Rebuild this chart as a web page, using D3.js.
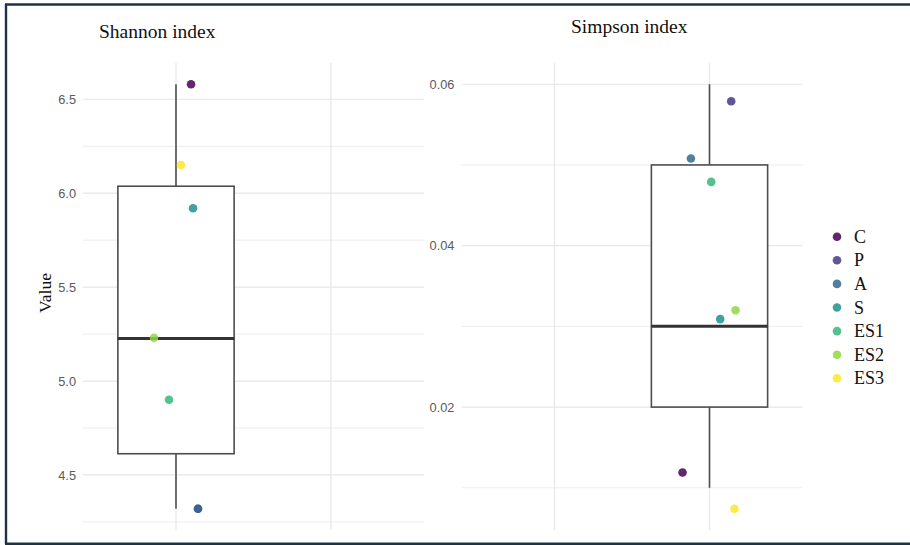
<!DOCTYPE html>
<html>
<head>
<meta charset="utf-8">
<script src="https://cdn.jsdelivr.net/npm/d3@7"></script>
<style>
  html, body { margin: 0; padding: 0; background: #fff; }
  svg { display: block; }
</style>
</head>
<body>
<svg id="chart" width="910" height="545"></svg>
<script>
// Sample groups and their viridis colours
const categories = ["C", "P", "A", "S", "ES1", "ES2", "ES3"];
const colors = ["#440154", "#443A83", "#31688E", "#21908C", "#35B779", "#8FD744", "#FDE725"];

// Discrete x levels shared by both facets
const indexLevels = ["Shannon", "Simpson"];

// Shannon index per sample, with horizontal jitter (in x-level units)
const shannonValues = [6.58, 4.32, 4.32, 5.92, 4.90, 5.23, 6.15];
const shannonJitter = [0.097, 0.142, 0.142, 0.110, -0.045, -0.142, 0.032];
// Box summary: lower whisker, Q1, median, Q3, upper whisker
const shannonBox = [4.32, 4.613, 5.227, 6.037, 6.58];
const shannonTicks = [4.5, 5.0, 5.5, 6.0, 6.5];

// Simpson index per sample, with horizontal jitter
const simpsonValues = [0.0119, 0.0579, 0.0508, 0.0309, 0.0479, 0.0320, 0.0074];
const simpsonJitter = [-0.174, 0.140, -0.120, 0.069, 0.011, 0.168, 0.161];
const simpsonBox = [0.01, 0.02, 0.03, 0.05, 0.06];
const simpsonTicks = [0.02, 0.04, 0.06];

const svg = d3.select("#chart");
const serif = "'Liberation Serif', 'Times New Roman', serif";
const sans = "'Liberation Sans', Arial, Helvetica, sans-serif";

// Frame around the figure (top, left, bottom edges)
const frame = svg.append("g").attr("stroke", "#1d3244").attr("stroke-width", 2.4).attr("fill", "none");
frame.append("line").attr("x1", 5).attr("x2", 910).attr("y1", 4.5).attr("y2", 4.5);
frame.append("line").attr("x1", 6).attr("x2", 6).attr("y1", 4).attr("y2", 544);
frame.append("line").attr("x1", 5).attr("x2", 910).attr("y1", 543.8).attr("y2", 543.8);

function drawPanel(opts) {
  const { left, right, top, bottom, values, jitter, box, ticks, fmt, level, title, titleX, titleY } = opts;
  const g = svg.append("g");

  const x = d3.scalePoint().domain(indexLevels).range([left, right]).padding(0.6);
  const unit = x.step();

  const ext = d3.extent(values.concat(box));
  const pad = (ext[1] - ext[0]) * 0.05;
  const y = d3.scaleLinear().domain([ext[0] - pad, ext[1] + pad]).range([bottom, top]);

  // Minor gridlines halfway between major ticks
  const tickStep = ticks[1] - ticks[0];
  const minors = [];
  for (let i = -1; i < ticks.length; i++) {
    const v = (i < 0 ? ticks[0] - tickStep / 2 : ticks[i] + tickStep / 2);
    if (v >= y.domain()[0] && v <= y.domain()[1]) minors.push(v);
  }
  g.append("g").selectAll("line").data(minors).join("line")
    .attr("x1", left).attr("x2", right)
    .attr("y1", d => y(d)).attr("y2", d => y(d))
    .attr("stroke", "#ececec").attr("stroke-width", 1);

  g.append("g").selectAll("line").data(ticks).join("line")
    .attr("x1", left).attr("x2", right)
    .attr("y1", d => y(d)).attr("y2", d => y(d))
    .attr("stroke", "#e6e6e6").attr("stroke-width", 1.2);

  g.append("g").selectAll("line").data(indexLevels).join("line")
    .attr("x1", d => x(d)).attr("x2", d => x(d))
    .attr("y1", top).attr("y2", bottom)
    .attr("stroke", "#e6e6e6").attr("stroke-width", 1.2);

  // Y axis labels
  const axis = g.append("g")
    .attr("transform", `translate(${left},0)`)
    .call(d3.axisLeft(y).tickValues(ticks).tickFormat(d3.format(fmt)).tickSize(0).tickPadding(7));
  axis.select(".domain").remove();
  axis.selectAll("text")
    .attr("fill", "#5a5a5a")
    .style("font-family", sans)
    .style("font-size", "12.8px");

  // Box plot
  const cx = x(level);
  const bw = unit * 0.75;
  const [wLo, q1, med, q3, wHi] = box;
  const bp = g.append("g").attr("stroke", "#4d4d4d").attr("fill", "none");
  bp.append("line").attr("x1", cx).attr("x2", cx).attr("y1", y(wHi)).attr("y2", y(q3)).attr("stroke-width", 1.6);
  bp.append("line").attr("x1", cx).attr("x2", cx).attr("y1", y(q1)).attr("y2", y(wLo)).attr("stroke-width", 1.6);
  bp.append("rect")
    .attr("x", cx - bw / 2).attr("width", bw)
    .attr("y", y(q3)).attr("height", y(q1) - y(q3))
    .attr("fill", "#fff").attr("stroke-width", 1.6);
  bp.append("line")
    .attr("x1", cx - bw / 2).attr("x2", cx + bw / 2)
    .attr("y1", y(med)).attr("y2", y(med))
    .attr("stroke", "#333").attr("stroke-width", 3);

  // Jittered sample points
  g.append("g").selectAll("circle").data(categories).join("circle")
    .attr("cx", (d, i) => cx + jitter[i] * unit)
    .attr("cy", (d, i) => y(values[i]))
    .attr("r", 4.3)
    .attr("fill", (d, i) => colors[i])
    .attr("fill-opacity", 0.85);

  // Panel title
  svg.append("text")
    .attr("x", titleX).attr("y", titleY)
    .style("font-family", serif).style("font-size", "19.5px")
    .attr("fill", "#111")
    .text(title);
}

drawPanel({
  left: 83, right: 424, top: 63, bottom: 530,
  values: shannonValues, jitter: shannonJitter, box: shannonBox,
  ticks: shannonTicks, fmt: ".1f", level: "Shannon",
  title: "Shannon index", titleX: 99, titleY: 37.5
});

drawPanel({
  left: 461.5, right: 802.5, top: 63, bottom: 530,
  values: simpsonValues, jitter: simpsonJitter, box: simpsonBox,
  ticks: simpsonTicks, fmt: ".2f", level: "Simpson",
  title: "Simpson index", titleX: 571, titleY: 32.5
});

// Shared y-axis title
svg.append("text")
  .attr("transform", "translate(51,293) rotate(-90)")
  .attr("text-anchor", "middle")
  .style("font-family", serif).style("font-size", "17.5px")
  .attr("fill", "#111")
  .text("Value");

// Legend
const legend = svg.append("g").attr("transform", "translate(837,236.7)");
const item = legend.selectAll("g").data(categories).join("g")
  .attr("transform", (d, i) => `translate(0,${i * 23.6})`);
item.append("circle").attr("r", 4.3)
  .attr("fill", (d, i) => colors[i]).attr("fill-opacity", 0.85);
item.append("text")
  .attr("x", 17).attr("dy", "0.34em")
  .style("font-family", serif).style("font-size", "18px")
  .attr("fill", "#111")
  .text(d => d);
</script>
</body>
</html>
